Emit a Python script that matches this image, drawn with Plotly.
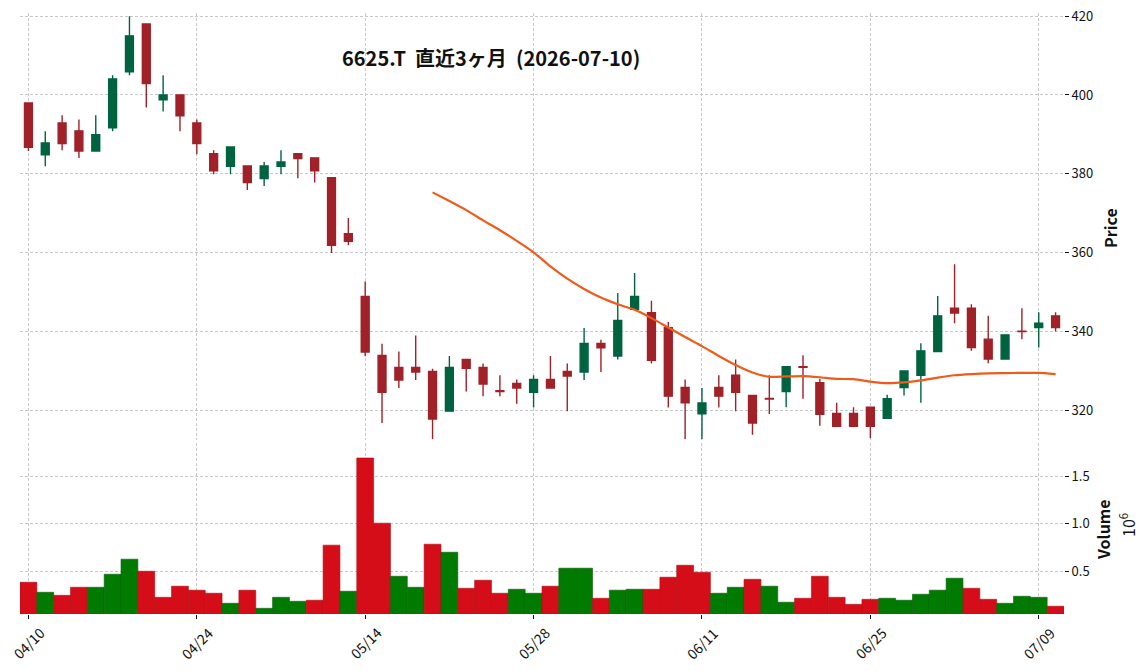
import plotly.graph_objects as go

dates = ["04/10", "04/13", "04/14", "04/15", "04/16", "04/17", "04/20", "04/21", "04/22", "04/23",
         "04/24", "04/27", "04/28", "04/30", "05/01", "05/07", "05/08", "05/11", "05/12", "05/13",
         "05/14", "05/15", "05/18", "05/19", "05/20", "05/21", "05/22", "05/25", "05/26", "05/27",
         "05/28", "05/29", "06/01", "06/02", "06/03", "06/04", "06/05", "06/08", "06/09", "06/10",
         "06/11", "06/12", "06/15", "06/16", "06/17", "06/18", "06/19", "06/22", "06/23", "06/24",
         "06/25", "06/26", "06/29", "06/30", "07/01", "07/02", "07/03", "07/06", "07/07", "07/08",
         "07/09", "07/10"]

opens = [398.0, 384.8, 392.9, 390.9, 385.8, 391.7, 405.9, 418.0, 398.8, 400.0,
         392.9, 385.1, 381.9, 382.0, 378.8, 381.9, 385.1, 384.05, 379.0, 364.8,
         348.9, 333.9, 330.9, 330.9, 329.9, 319.8, 332.9, 330.9, 325.0, 326.8,
         324.6, 327.85, 329.9, 329.7, 337.0, 333.8, 345.65, 344.8, 341.0, 325.8,
         319.1, 325.8, 328.9, 323.8, 323.0, 324.8, 331.05, 327.0, 319.2, 319.2,
         320.8, 318.0, 325.8, 328.9, 334.9, 345.9, 345.9, 338.06, 333.0, 340.1,
         341.0, 343.97]
highs = [398.0, 390.8, 394.85, 393.8, 394.85, 405.0, 420.0, 418.0, 405.0, 400.0,
         393.8, 386.0, 386.8, 382.0, 383.0, 386.0, 385.1, 384.05, 379.0, 368.8,
         352.7, 336.9, 334.9, 339.0, 330.55, 333.8, 332.9, 331.9, 328.9, 327.85,
         328.9, 333.8, 331.9, 340.9, 337.9, 349.8, 354.85, 347.8, 342.4, 327.85,
         325.65, 328.9, 332.9, 323.8, 328.9, 331.05, 334.0, 328.0, 321.9, 320.8,
         320.8, 323.95, 330.0, 337.05, 349.0, 357.05, 346.9, 343.97, 339.16, 345.9,
         344.9, 344.9]
lows = [385.8, 381.9, 386.0, 384.0, 385.8, 390.8, 405.0, 396.8, 395.8, 390.8,
        385.0, 379.9, 379.9, 375.9, 376.9, 379.9, 378.9, 377.8, 359.9, 361.9,
        333.7, 316.8, 325.7, 327.7, 312.7, 319.8, 324.8, 323.6, 323.6, 321.7,
        320.7, 325.65, 319.8, 327.7, 329.7, 332.9, 345.65, 331.9, 320.7, 312.7,
        312.7, 320.7, 319.8, 313.8, 319.1, 320.8, 322.95, 316.1, 315.95, 315.95,
        312.9, 318.0, 323.8, 321.9, 334.9, 342.1, 335.1, 331.98, 333.0, 338.06,
        335.95, 340.0]
closes = [386.7, 387.85, 387.7, 385.8, 389.9, 404.05, 415.0, 402.9, 400.0, 394.7,
          387.7, 380.8, 386.8, 377.8, 382.0, 383.0, 383.9, 380.8, 361.9, 362.9,
          334.8, 324.6, 327.7, 329.7, 317.8, 330.9, 330.7, 326.7, 324.8, 325.65,
          327.85, 325.65, 328.7, 337.0, 335.9, 342.8, 348.9, 332.7, 323.6, 321.9,
          321.85, 323.6, 324.6, 316.8, 322.9, 331.05, 330.9, 319.0, 315.95, 315.95,
          315.95, 322.95, 330.0, 335.1, 343.97, 344.7, 335.95, 333.0, 339.16, 340.0,
          342.1, 341.0]
volumes = [384000, 278000, 246000, 331000, 331000, 468000, 627000, 500000, 225000, 342000,
           300000, 268000, 162000, 300000, 109000, 225000, 183000, 194000, 775000, 289000,
           1694000, 1007000, 447000, 331000, 785000, 700000, 320000, 405000, 268000, 310000,
           268000, 342000, 532000, 532000, 215000, 300000, 310000, 310000, 437000, 563000,
           489000, 268000, 331000, 415000, 342000, 173000, 215000, 447000, 225000, 151000,
           204000, 215000, 194000, 257000, 300000, 426000, 320000, 204000, 162000, 236000,
           225000, 131000]
# 25-day moving average (starts at the 25th session)
ma_start = 24
ma25 = [375.3, 373.1, 370.8, 368.2, 365.7, 363.0, 360.1, 356.5, 353.4, 350.8,
        348.6, 346.9, 345.5, 343.4, 341.0, 338.6, 336.3, 333.8, 331.5, 329.6,
        328.5, 328.6, 328.7, 328.4, 328.0, 327.9, 327.3, 326.9, 327.1, 327.6,
        328.3, 328.9, 329.2, 329.4, 329.45, 329.5, 329.5, 329.2]

title_text = "6625.T\u00a0\u00a0直近3ヶ月\u00a0\u00a0(2026-07-10)"
price_ticks = [320, 340, 360, 380, 400, 420]
vol_ticks = [500000, 1000000, 1500000]
vol_ticktext = ["0.5", "1.0", "1.5"]
xtick_idx = [0, 10, 20, 30, 40, 50, 60]

UP_C, DN_C = "#006340", "#a02128"
VUP_C, VDN_C = "#007a00", "#d50d18"
FONT = "Noto Sans CJK JP"

n = len(dates)
xs = list(range(n))
vcolors = []
for i in range(n):
    ref = closes[i - 1] if i > 0 else opens[i]
    vcolors.append(VUP_C if closes[i] > ref else VDN_C)
vline = ["#0a5e0a" if c == VUP_C else "#b00d16" for c in vcolors]

fig = go.Figure()
fig.add_trace(go.Candlestick(
    x=xs, open=opens, high=highs, low=lows, close=closes,
    increasing=dict(line=dict(color=UP_C, width=1.4), fillcolor=UP_C),
    decreasing=dict(line=dict(color=DN_C, width=1.4), fillcolor=DN_C),
    whiskerwidth=0, xaxis="x", yaxis="y", showlegend=False))
fig.add_trace(go.Scatter(
    x=xs[ma_start:], y=ma25, mode="lines",
    line=dict(color="#f05a1a", width=2.2, shape="spline", smoothing=0.6),
    xaxis="x", yaxis="y", showlegend=False))
fig.add_trace(go.Bar(
    x=xs, y=volumes, width=1.0,
    marker=dict(color=vcolors, line=dict(color=vline, width=0.6)),
    xaxis="x2", yaxis="y2", showlegend=False))

grid = dict(showgrid=True, gridcolor="#c8c8c8", gridwidth=0.8, griddash="3px,2px")
tickf = dict(family=FONT, size=13, color="#111")
xtickf = dict(family=FONT, size=14, color="#111")

# x tick labels: rotated 45 degrees, centred under each tick (matplotlib style)
xlabel_anns = [
    dict(text=dates[i], xref="x2", yref="paper", x=i, y=(614 - 642.5) / 601,
         xanchor="center", yanchor="middle", textangle=-45, showarrow=False,
         font=xtickf)
    for i in xtick_idx
]

fig.update_layout(
    width=1148, height=671,
    margin=dict(l=20, r=84, t=13, b=57, autoexpand=False),
    paper_bgcolor="white", plot_bgcolor="white",
    boxgap=0.33,
    xaxis=dict(domain=[0, 1], range=[-0.5, n - 0.5], anchor="y", matches="x2",
               tickvals=xtick_idx, showticklabels=False, ticks="", automargin=False,
               rangeslider=dict(visible=False), zeroline=False, showline=False, **grid),
    yaxis=dict(domain=[0.2903, 1], range=[312.6, 420.8], side="right", anchor="x",
               tickvals=price_ticks, ticks="outside", ticklen=4, tickcolor="#111",
               automargin=False, ticklabeloverflow="allow",
               tickfont=tickf, zeroline=False, showline=False, **grid),
    xaxis2=dict(domain=[0, 1], range=[-0.5, n - 0.5], anchor="y2",
                tickvals=xtick_idx, showticklabels=False,
                ticks="outside", ticklen=4, tickcolor="#111", automargin=False,
                zeroline=False, showline=False, **grid),
    yaxis2=dict(domain=[0, 0.2845], range=[49000, 1852000], side="right", anchor="x2",
                tickvals=vol_ticks, ticktext=vol_ticktext, ticks="outside", ticklen=4,
                automargin=False, ticklabeloverflow="allow",
                tickcolor="#111", tickfont=tickf, zeroline=False, showline=False, **grid),
    annotations=[
        dict(text="<b>" + title_text + "</b>", xref="paper", yref="paper",
             x=(491 - 20) / 1044, y=(614 - 57.5) / 601, xanchor="center", yanchor="middle",
             showarrow=False, font=dict(family=FONT, size=20, color="#111")),
        dict(text="<b>Price</b>", xref="paper", yref="paper", textangle=-90,
             x=(1110 - 20) / 1044, y=(614 - 228) / 601, xanchor="center", yanchor="middle",
             showarrow=False, font=dict(family=FONT, size=16, color="#111")),
        dict(text="<b>Volume</b>", xref="paper", yref="paper", textangle=-90,
             x=(1103 - 20) / 1044, y=(614 - 530) / 601, xanchor="center", yanchor="middle",
             showarrow=False, font=dict(family=FONT, size=16, color="#111")),
        dict(text="10<sup>6</sup>", xref="paper", yref="paper", textangle=-90,
             x=(1127 - 20) / 1044, y=(614 - 525) / 601, xanchor="center", yanchor="middle",
             showarrow=False, font=dict(family=FONT, size=16, color="#111")),
    ] + xlabel_anns,
)

fig.write_html("out.html")
